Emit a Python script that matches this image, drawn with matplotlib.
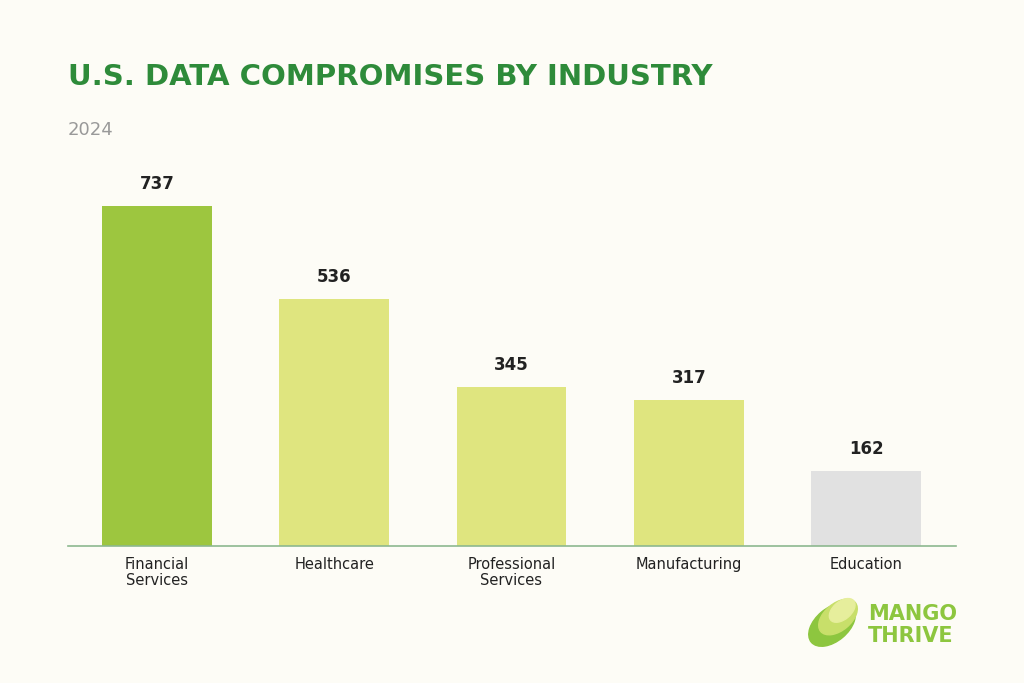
import matplotlib.pyplot as plt
from matplotlib.patches import Ellipse

categories = ['Financial\nServices', 'Healthcare', 'Professional\nServices', 'Manufacturing', 'Education']
values = [737, 536, 345, 317, 162]
colors = ['#9DC63F', '#DFE57F', '#DFE57F', '#DFE57F', '#E1E1E1']

bg = '#FDFCF6'
fig = plt.figure(figsize=(10.24, 6.83), dpi=100, facecolor=bg)
ax = fig.add_axes([68/1024, 137/683, 888/1024, 396/683], facecolor=bg)

x = range(len(values))
ax.bar(x, values, width=0.62, color=colors)
for xi, v in zip(x, values):
    ax.text(xi, v + 28, str(v), ha='center', va='bottom', fontsize=12,
            fontweight='bold', color='#222222')

ax.set_xlim(-0.501, 4.507)
ax.set_ylim(0, 858)
ax.set_xticks(list(x))
ax.set_xticklabels(categories, fontsize=10.5, color='#222222', linespacing=1.05)
ax.tick_params(axis='x', length=0, pad=8)
ax.set_yticks([])
for s in ['top', 'right', 'left']:
    ax.spines[s].set_visible(False)
ax.spines['bottom'].set_color('#8DB88F')
ax.spines['bottom'].set_linewidth(1.2)

fig.text(68/1024, 1 - 77/683, 'U.S. DATA COMPROMISES BY INDUSTRY', fontsize=21,
         fontweight='heavy', color='#2E8B3A', va='center', ha='left')
fig.text(68/1024, 1 - 130/683, '2024', fontsize=13, color='#999999',
         va='center', ha='left')

# logo
lax = fig.add_axes([805/1024, 1 - 650/683, 60/1024, 60/683])
lax.set_xlim(0, 1); lax.set_ylim(0, 1); lax.axis('off')
lax.add_patch(Ellipse((0.45, 0.42), 0.55, 0.9, angle=-50, color='#8DC63F'))
lax.add_patch(Ellipse((0.55, 0.55), 0.45, 0.75, angle=-50, color='#C8DF6A'))
lax.add_patch(Ellipse((0.62, 0.66), 0.3, 0.5, angle=-50, color='#E6EE9C'))
fig.text(868/1024, 1 - 614/683, 'MANGO', fontsize=15, fontweight='heavy',
         color='#8DC63F', va='center', ha='left')
fig.text(868/1024, 1 - 636/683, 'THRIVE', fontsize=15, fontweight='heavy',
         color='#8DC63F', va='center', ha='left')

fig.savefig('out.png', dpi=100, facecolor=bg)
